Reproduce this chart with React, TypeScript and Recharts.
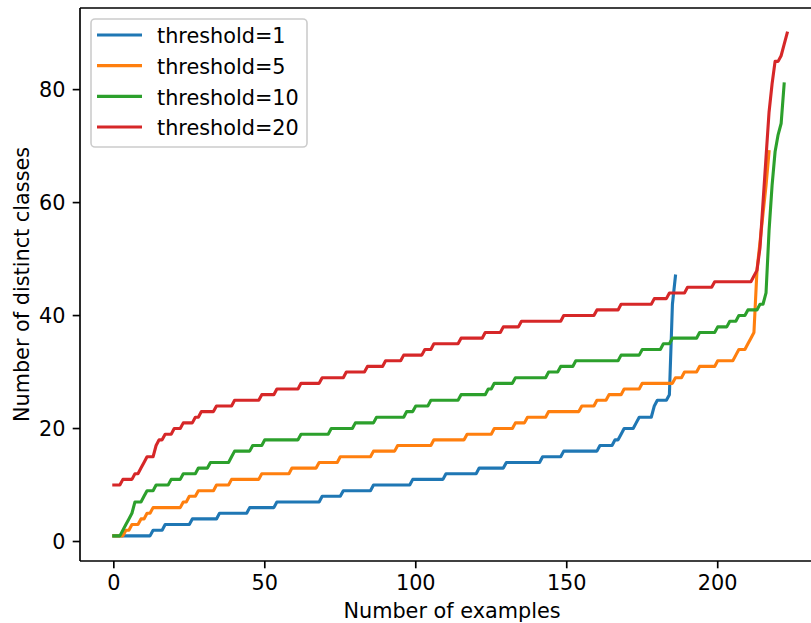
import React from 'react';
import { LineChart, Line, XAxis, YAxis, ReferenceLine, Legend } from 'recharts';

// Each run: [first example index, number of distinct classes] – value holds until next run starts
const runsT1: [number, number][] = [
  [0, 1], [13, 2], [17, 3], [26, 4], [35, 5], [45, 6], [54, 7], [69, 8], [76, 9], [86, 10],
  [99, 11], [110, 12], [121, 13], [130, 14], [142, 15], [149, 16], [161, 17], [166, 18], [168, 19],
  [169, 20], [173, 21], [174, 22], [179, 24], [180, 25], [184, 26], [185, 42], [186, 47],
];
const runsT5: [number, number][] = [
  [0, 1], [4, 2], [6, 3], [9, 4], [11, 5], [13, 6], [23, 7], [25, 8], [28, 9], [34, 10], [39, 11],
  [49, 12], [59, 13], [68, 14], [75, 15], [86, 16], [94, 17], [106, 18], [117, 19], [126, 20],
  [133, 21], [137, 22], [144, 23], [155, 24], [160, 25], [164, 26], [169, 27], [175, 28], [186, 29],
  [189, 30], [194, 31], [200, 32], [206, 33], [207, 34], [210, 35], [211, 36], [212, 37], [213, 48],
  [214, 53], [215, 58], [216, 63], [217, 69],
];
const runsT10: [number, number][] = [
  [0, 1], [3, 2], [4, 3], [5, 4], [6, 5], [7, 7], [10, 8], [11, 9], [14, 10], [19, 11], [23, 12],
  [28, 13], [32, 14], [39, 15], [40, 16], [46, 17], [50, 18], [62, 19], [72, 20], [80, 21], [87, 22],
  [97, 23], [100, 24], [105, 25], [115, 26], [124, 27], [126, 28], [133, 29], [144, 30], [148, 31],
  [153, 32], [168, 33], [175, 34], [182, 35], [185, 36], [194, 37], [200, 38], [204, 39], [207, 40],
  [210, 41], [214, 42], [216, 44], [217, 55], [218, 63], [219, 69], [220, 72], [221, 74], [222, 81],
];
const runsT20: [number, number][] = [
  [0, 10], [3, 11], [7, 12], [9, 13], [10, 14], [11, 15], [14, 17], [15, 18], [17, 19], [20, 20],
  [23, 21], [27, 22], [29, 23], [34, 24], [40, 25], [49, 26], [54, 27], [62, 28], [69, 29], [77, 30],
  [84, 31], [90, 32], [96, 33], [103, 34], [106, 35], [115, 36], [123, 37], [129, 38], [135, 39],
  [149, 40], [160, 41], [168, 42], [179, 43], [184, 44], [190, 45], [199, 46], [212, 47], [213, 48],
  [214, 52], [215, 60], [216, 68], [217, 76], [218, 81], [219, 85], [221, 86], [222, 88], [223, 90],
];

const seriesNames = ['threshold=1', 'threshold=5', 'threshold=10', 'threshold=20'];
const seriesColors = ['#1f77b4', '#ff7f0e', '#2ca02c', '#d62728'];
const xTicks = [0, 50, 100, 150, 200];
const yTicks = [0, 20, 40, 60, 80];

function toPoints(runs: [number, number][]) {
  const pts: { x: number; y: number }[] = [];
  runs.forEach(([s, v], i) => {
    pts.push({ x: s, y: v });
    const next = runs[i + 1];
    if (next && next[0] - 1 > s) pts.push({ x: next[0] - 1, y: v });
  });
  return pts;
}

const seriesData = [runsT1, runsT5, runsT10, runsT20].map(toPoints);

const FONT = 'DejaVu Sans';
const FS = 20.8;
const LW = 1.67;

const LegendBox = () => (
  <svg width={222} height={134} style={{ display: 'block' }}>
    <rect x={1} y={1} width={216} height={128} rx={4} ry={4} fill="#ffffff" fillOpacity={0.8} stroke="#cccccc" strokeWidth={1.6} />
    {seriesNames.map((n, i) => (
      <g key={n}>
        <line x1={7} x2={52} y1={17 + i * 30.67} y2={17 + i * 30.67} stroke={seriesColors[i]} strokeWidth={3.1} />
        <text x={67} y={25.3 + i * 30.67} fontFamily={FONT} fontSize={FS} fill="#000">{n}</text>
      </g>
    ))}
  </svg>
);

const YLabel = (props: any) => {
  const vb = props.viewBox || { y: 8, height: 553 };
  const cx = 29;
  const cy = vb.y + vb.height / 2;
  return (
    <text x={cx} y={cy} transform={`rotate(-90 ${cx} ${cy})`} textAnchor="middle" fontFamily={FONT} fontSize={FS} fill="#000">
      Number of distinct classes
    </text>
  );
};

const XLabel = (props: any) => {
  const vb = props.viewBox || { x: 80, width: 744 };
  const cx = vb.x + vb.width / 2;
  return (
    <text x={cx} y={618} textAnchor="middle" fontFamily={FONT} fontSize={FS} fill="#000">
      Number of examples
    </text>
  );
};

export default function App() {
  return (
    <div style={{ position: 'fixed', left: 0, top: 0, width: 811, height: 623, overflow: 'hidden', background: '#fff' }}>
      <LineChart width={830} height={623} margin={{ top: 8, right: 6, bottom: 0, left: 0 }}>
        <XAxis
          type="number"
          dataKey="x"
          domain={[-11.2, 235.2]}
          ticks={xTicks}
          allowDataOverflow
          height={62}
          tickSize={7.3}
          tickMargin={7.3}
          axisLine={{ stroke: '#000', strokeWidth: LW }}
          tickLine={{ stroke: '#000', strokeWidth: LW }}
          tick={{ fill: '#000', fontSize: FS, fontFamily: FONT }}
          label={<XLabel />}
        />
        <YAxis
          type="number"
          dataKey="y"
          domain={[-3.45, 94.45]}
          ticks={yTicks}
          allowDataOverflow
          width={80}
          tickSize={7.3}
          tickMargin={7.3}
          axisLine={{ stroke: '#000', strokeWidth: LW }}
          tickLine={{ stroke: '#000', strokeWidth: LW }}
          tick={{ fill: '#000', fontSize: FS, fontFamily: FONT }}
          label={<YLabel />}
        />
        <ReferenceLine y={94.45} stroke="#000" strokeWidth={LW} />
        <ReferenceLine x={235.2} stroke="#000" strokeWidth={LW} />
        {seriesData.map((d, i) => (
          <Line
            key={seriesNames[i]}
            data={d}
            dataKey="y"
            name={seriesNames[i]}
            type="linear"
            stroke={seriesColors[i]}
            strokeWidth={3.1}
            strokeLinejoin="round"
            strokeLinecap="square"
            dot={false}
            activeDot={false}
            isAnimationActive={false}
          />
        ))}
        <Legend
          layout="vertical"
          align="center"
          verticalAlign="middle"
          wrapperStyle={{ left: 90, top: 18, width: 222, height: 134 }}
          content={() => <LegendBox />}
        />
      </LineChart>
    </div>
  );
}
